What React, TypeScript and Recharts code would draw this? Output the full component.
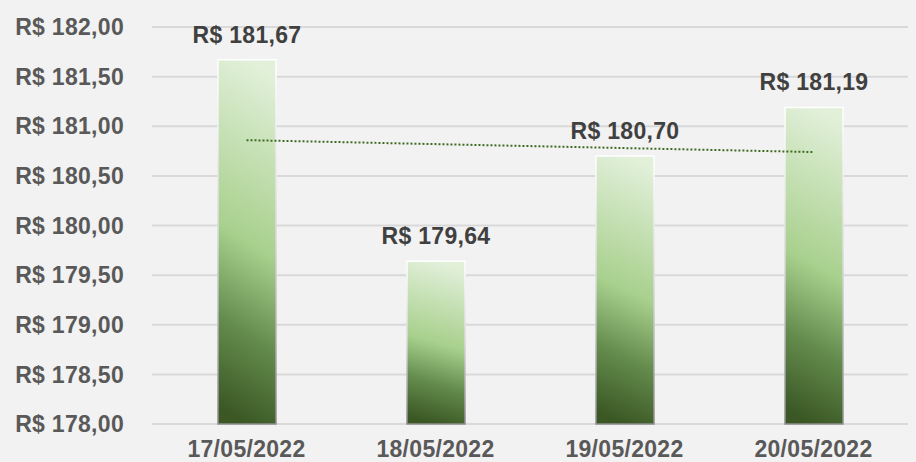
import {
  ComposedChart,
  Bar,
  Line,
  XAxis,
  YAxis,
  CartesianGrid,
  LabelList,
} from "recharts";

const dates = ["17/05/2022", "18/05/2022", "19/05/2022", "20/05/2022"];
const prices = [181.67, 179.64, 180.7, 181.19];
const trend = [180.86, 180.82, 180.78, 180.74];
const yTicks = [178, 178.5, 179, 179.5, 180, 180.5, 181, 181.5, 182];

const data = dates.map((date, i) => ({
  date,
  price: prices[i],
  trend: trend[i],
}));

const brl = (v: number) => "R$ " + v.toFixed(2).replace(".", ",");

const fontSize = 23;
const spacing = 0.3;

// price label above each bar, drawn as one line
const PriceLabel = (props: any) => {
  const { x, y, width, value } = props;
  return (
    <text
      x={x + width / 2}
      y={y - 17}
      textAnchor="middle"
      fill="#404040"
      fontSize={fontSize}
      fontWeight="bold"
      letterSpacing={spacing}
    >
      {brl(value)}
    </text>
  );
};

export default function App() {
  return (
    <div style={{ position: "absolute", left: 0, top: 0, background: "#f2f2f2" }}>
      <ComposedChart
        width={916}
        height={462}
        data={data}
        margin={{ top: 27, right: 8, bottom: 0, left: 0 }}
        style={{ fontFamily: "'Liberation Sans', Arial, sans-serif" }}
      >
        <defs>
          <linearGradient id="barFill" x1="0.45" y1="1" x2="0.55" y2="0">
            <stop offset="0%" stopColor="#3a5724" />
            <stop offset="25%" stopColor="#648c4d" />
            <stop offset="50%" stopColor="#a8d08d" />
            <stop offset="100%" stopColor="#e2f0da" />
          </linearGradient>
          <linearGradient id="barStroke" x1="0" y1="1" x2="0" y2="0">
            <stop offset="0%" stopColor="#8e8e8e" />
            <stop offset="50%" stopColor="#d8d8d8" />
            <stop offset="100%" stopColor="#ffffff" />
          </linearGradient>
        </defs>
        <CartesianGrid vertical={false} stroke="#d9d9d9" strokeWidth={2} />
        <XAxis
          dataKey="date"
          axisLine={false}
          tickLine={false}
          tickSize={0}
          tickMargin={17}
          height={38}
          tick={{ fill: "#595959", fontSize, fontWeight: "bold", letterSpacing: spacing }}
        />
        <YAxis
          domain={[178, 182]}
          ticks={yTicks}
          axisLine={false}
          tickLine={false}
          tickSize={0}
          tickMargin={28}
          width={152}
          tickFormatter={brl}
          tick={{ fill: "#595959", fontSize, fontWeight: "bold", letterSpacing: spacing }}
        />
        <Bar
          dataKey="price"
          barSize={58}
          fill="url(#barFill)"
          stroke="url(#barStroke)"
          strokeWidth={1.5}
          isAnimationActive={false}
        >
          <LabelList dataKey="price" content={PriceLabel} />
        </Bar>
        <Line
          dataKey="trend"
          type="linear"
          stroke="#3d6b22"
          strokeWidth={2}
          strokeDasharray="2 2"
          dot={false}
          activeDot={false}
          isAnimationActive={false}
        />
      </ComposedChart>
    </div>
  );
}
